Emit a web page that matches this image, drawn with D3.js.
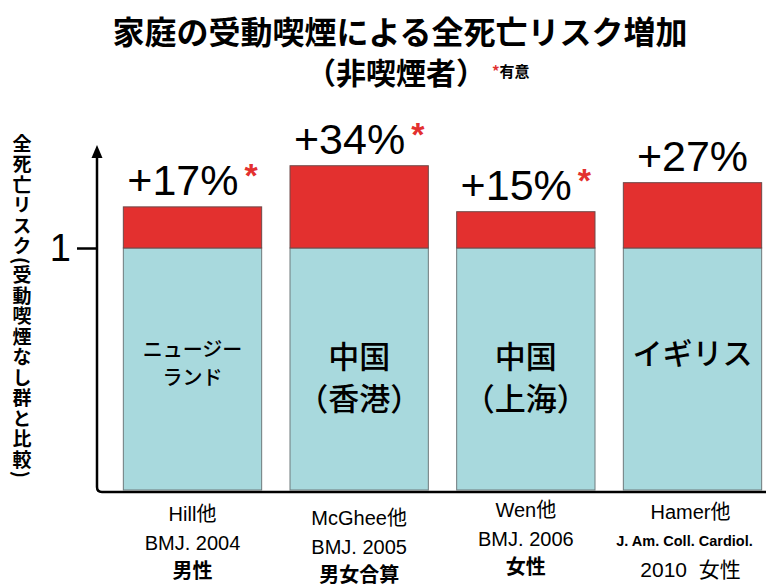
<!DOCTYPE html>
<html>
<head>
<meta charset="utf-8">
<script src="https://cdn.jsdelivr.net/npm/d3@7"></script>
<style>
  body { margin: 0; background: #fff; }
  svg { display: block; }
  text { font-family: "Liberation Sans", "Noto Sans CJK JP", sans-serif; }
  .jp { font-family: "Noto Sans CJK JP", "Liberation Sans", sans-serif; font-weight: bold; }
</style>
</head>
<body>
<div id="chart"></div>
<script>
// Data
const studies = ['Hill', 'McGhee', 'Wen', 'Hamer'];
const riskValues = [1.17, 1.34, 1.15, 1.27];
const increaseLabels = ['+17%', '+34%', '+15%', '+27%'];
const significant = [true, true, true, false];
const countryLines = [['ニュージー', 'ランド'], ['中国', '（香港）'], ['中国', '（上海）'], ['イギリス']];
const sourceLines = [
  ['Hill他', 'BMJ. 2004', '男性'],
  ['McGhee他', 'BMJ. 2005', '男女合算'],
  ['Wen他', 'BMJ. 2006', '女性'],
  ['Hamer他', 'J. Am. Coll. Cardiol.', '2010  女性']
];
const yTicks = [1];
// ASCII brackets so they lie sideways in vertical text, as in the original
const yTitle = '全死亡リスク(受動喫煙なし群と比較)';

const width = 766;
const height = 586;
const baseY = 490;

const svg = d3.select('#chart')
  .append('svg')
  .attr('width', width)
  .attr('height', height);

// Scales
const x = d3.scaleBand()
  .domain(studies)
  .range([110, 775])
  .paddingInner(0.17)
  .paddingOuter(0.08);

const y = d3.scaleLinear()
  .domain([0, 1.405])
  .range([baseY, 150]);

// Title
svg.append('text')
  .attr('class', 'jp')
  .attr('x', 400)
  .attr('y', 44)
  .attr('text-anchor', 'middle')
  .style('font-size', '32px')
  .text('家庭の受動喫煙による全死亡リスク増加');

svg.append('text')
  .attr('class', 'jp')
  .attr('x', 396)
  .attr('y', 84)
  .attr('text-anchor', 'middle')
  .style('font-size', '30px')
  .text('（非喫煙者）');

const note = svg.append('text')
  .attr('class', 'jp')
  .attr('x', 492)
  .attr('y', 77)
  .style('font-size', '15px');
note.append('tspan').attr('fill', '#e03030').text('*');
note.append('tspan').attr('fill', '#000').text('有意');

// Bars: base (blue) up to 1, excess (red) above 1
const bars = svg.append('g');

bars.selectAll('.base')
  .data(studies)
  .enter().append('rect')
  .attr('class', 'base')
  .attr('x', d => x(d))
  .attr('y', y(1))
  .attr('width', x.bandwidth())
  .attr('height', y(0) - y(1))
  .style('fill', '#a8d9dd')
  .style('stroke', '#6e7a7c')
  .style('stroke-width', 1);

bars.selectAll('.excess')
  .data(studies)
  .enter().append('rect')
  .attr('class', 'excess')
  .attr('x', d => x(d))
  .attr('y', (d, i) => y(riskValues[i]))
  .attr('width', x.bandwidth())
  .attr('height', (d, i) => y(1) - y(riskValues[i]))
  .style('fill', '#e3302f')
  .style('stroke', '#6e4a4a')
  .style('stroke-width', 1);

// Percentage labels
studies.forEach((s, i) => {
  const t = svg.append('text')
    .attr('x', x(s) + x.bandwidth() / 2)
    .attr('y', y(riskValues[i]) - 12)
    .attr('text-anchor', 'middle')
    .style('font-size', '43px');
  t.append('tspan').text(increaseLabels[i]);
  if (significant[i]) {
    t.append('tspan')
      .attr('fill', '#e3302f')
      .attr('dx', 6)
      .attr('dy', -8)
      .style('font-size', '34px')
      .style('font-weight', 'bold')
      .text('*');
  }
});

// Country labels inside bars
const countrySize = [20, 31, 31, 30];
const countryTop = [352, 360, 360, 356];
const countryGap = [28, 42, 42, 0];
studies.forEach((s, i) => {
  countryLines[i].forEach((line, j) => {
    svg.append('text')
      .attr('class', 'jp')
      .attr('x', x(s) + x.bandwidth() / 2)
      .attr('y', countryTop[i] + j * countryGap[i])
      .attr('text-anchor', 'middle')
      .attr('dominant-baseline', 'middle')
      .style('font-size', countrySize[i] + 'px')
      .style('font-weight', 500)
      .text(line);
  });
});

// Axes
const yAxis = d3.axisLeft(y)
  .tickValues(yTicks)
  .tickSize(20)
  .tickPadding(6)
  .tickFormat(d3.format('d'));

const axisG = svg.append('g')
  .attr('transform', 'translate(97,0)')
  .call(yAxis);
axisG.select('.domain').remove();
axisG.selectAll('line').style('stroke', '#000').style('stroke-width', 2.5);
axisG.selectAll('text')
  .style('font-size', '38px')
  .style('font-family', '"Liberation Sans", sans-serif')
  .attr('fill', '#000');

svg.append('path')
  .attr('d', `M766,${baseY + 2} L102,${baseY + 2} Q97,${baseY + 2} 97,${baseY - 3} L97,${y(1.405) + 6}`)
  .attr('fill', 'none')
  .attr('stroke', '#000')
  .attr('stroke-width', 2.5);

// arrow head at the top of the y axis
svg.append('path')
  .attr('d', `M91.5,${y(1.405) + 8} L97,${y(1.405) - 5} L102.5,${y(1.405) + 8} Z`)
  .attr('fill', '#000');

// Y axis title (vertical)
svg.append('text')
  .attr('class', 'jp')
  .attr('x', 22)
  .attr('y', 134)
  .style('writing-mode', 'vertical-rl')
  .style('text-orientation', 'mixed')
  .style('font-size', '19px')
  .style('letter-spacing', '1.5px')
  .text(yTitle);

// Source labels below the axis
const sourceTop = [516, 520, 512, 514];
studies.forEach((s, i) => {
  sourceLines[i].forEach((line, j) => {
    const small = i === 3 && j === 1;
    const plain = i === 3 && j === 2;
    svg.append('text')
      .attr('x', x(s) + x.bandwidth() / 2 + (i === 3 ? (small ? -8 : -2) : 0))
      .attr('y', sourceTop[i] + j * 28.5)
      .attr('text-anchor', 'middle')
      .attr('dominant-baseline', 'middle')
      .style('white-space', 'pre')
      .style('font-size', small ? '14.5px' : (plain ? '21px' : '20px'))
      .style('font-weight', (small || j === 2) && !plain ? 'bold' : 'normal')
      .style('font-family', '"Liberation Sans", "Noto Sans CJK JP", sans-serif')
      .text(line);
  });
});
</script>
</body>
</html>
